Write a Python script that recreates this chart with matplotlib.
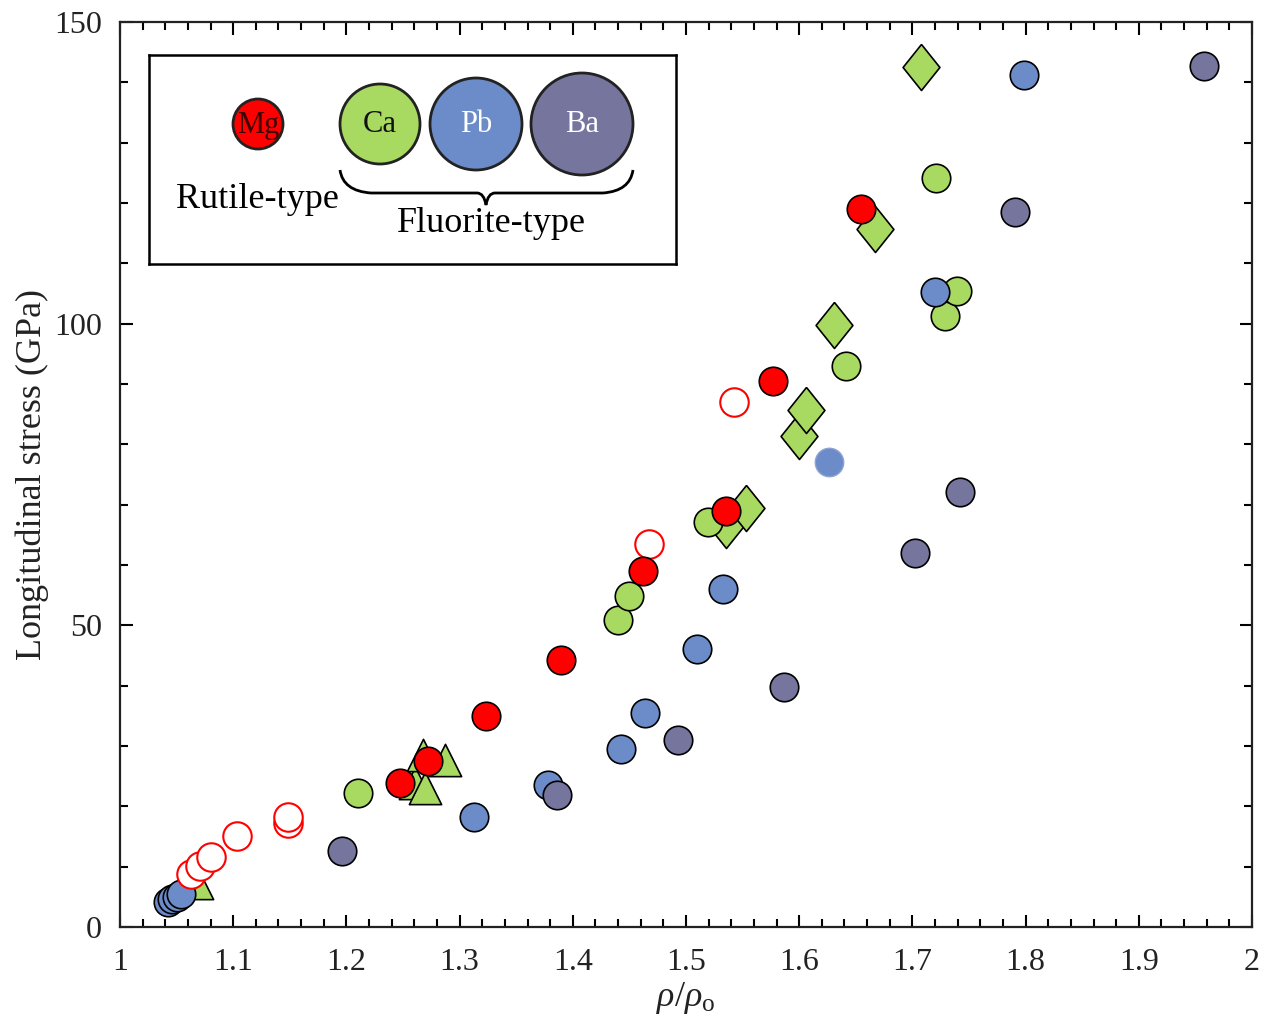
import numpy as np
import matplotlib
matplotlib.use('Agg')
import matplotlib.pyplot as plt
from matplotlib.patches import Circle, PathPatch
from matplotlib.path import Path
from matplotlib.ticker import MultipleLocator

plt.rcParams['font.family'] = ['Liberation Serif', 'DejaVu Serif']
plt.rcParams['mathtext.fontset'] = 'custom'
plt.rcParams['mathtext.rm'] = 'Liberation Serif'
plt.rcParams['mathtext.it'] = 'Liberation Serif:italic'

# Mg (rutile-type), filled and open red circles
mg_x = [1.247, 1.272, 1.323, 1.390, 1.462, 1.535, 1.577, 1.655]
mg_y = [23.9, 27.5, 35.0, 44.3, 59.0, 69.0, 90.5, 119.0]
mg_open_x = [1.063, 1.071, 1.080, 1.103, 1.148, 1.148, 1.467, 1.542]
mg_open_y = [8.8, 10.1, 11.6, 15.1, 17.2, 18.2, 63.5, 87.0]

# Ca (fluorite-type)
ca_x = [1.210, 1.440, 1.450, 1.519, 1.641, 1.721, 1.729, 1.739]
ca_y = [22.2, 50.9, 54.9, 67.1, 93.0, 124.1, 101.3, 105.4]
ca_tri_x = [1.068, 1.261, 1.269, 1.268, 1.287]
ca_tri_y = [7.3, 23.9, 23.0, 28.5, 27.7]
ca_dia_x = [1.535, 1.553, 1.600, 1.606, 1.631, 1.667, 1.708]
ca_dia_y = [66.6, 69.5, 81.4, 85.7, 99.8, 115.7, 142.5]

# Pb
pb_x = [1.042, 1.046, 1.050, 1.054, 1.313, 1.378, 1.443, 1.464, 1.510, 1.533, 1.720, 1.799]
pb_y = [4.2, 4.6, 5.0, 5.4, 18.2, 23.5, 29.5, 35.5, 46.1, 56.0, 105.3, 141.2]
pb_noedge_x = [1.626]
pb_noedge_y = [77.1]

# Ba
ba_x = [1.196, 1.386, 1.493, 1.587, 1.702, 1.742, 1.791, 1.958]
ba_y = [12.6, 21.9, 31.0, 39.8, 62.0, 72.1, 118.5, 142.7]

red = '#ff0000'
green = '#a8da62'
blue = '#6b8cc9'
purple = '#76759e'

# slightly tall diamond
diamond = [(0, 1), (0.8, 0), (0, -1), (-0.8, 0), (0, 1)]

fig = plt.figure(figsize=(12.62, 10.23), dpi=100)
ax = fig.add_axes([120/1262, 1 - 927/1023, 1132/1262, 905/1023])

s = 420
ax.scatter(ca_tri_x, ca_tri_y, s=540, marker='^', c=green, edgecolors='black', linewidths=1.2, zorder=2)
ax.scatter(ca_dia_x, ca_dia_y, s=1100, marker=diamond, c=green, edgecolors='black', linewidths=1.2, zorder=2)
ax.scatter(ca_x, ca_y, s=s, c=green, edgecolors='black', linewidths=1.2, zorder=3)
ax.scatter(pb_x, pb_y, s=s, c=blue, edgecolors='black', linewidths=1.2, zorder=3)
ax.scatter(pb_noedge_x, pb_noedge_y, s=s, c=blue, edgecolors='#8fa3d6', linewidths=1.0, zorder=3)
ax.scatter(ba_x, ba_y, s=s, c=purple, edgecolors='black', linewidths=1.2, zorder=3)
ax.scatter(mg_open_x, mg_open_y, s=s, facecolors='white', edgecolors=red, linewidths=1.5, zorder=4)
ax.scatter(mg_x, mg_y, s=s, c=red, edgecolors='black', linewidths=1.2, zorder=5)

ax.set_xlim(1, 2)
ax.set_ylim(0, 150)
ax.xaxis.set_minor_locator(MultipleLocator(0.02))
ax.yaxis.set_major_locator(MultipleLocator(50))
ax.yaxis.set_minor_locator(MultipleLocator(10))
ax.set_xticks(np.arange(1, 2.01, 0.1))
ax.set_xticklabels(['1', '1.1', '1.2', '1.3', '1.4', '1.5', '1.6', '1.7', '1.8', '1.9', '2'])
ax.tick_params(which='both', direction='in', top=True, right=True, labelsize=23,
               width=1.5, labelcolor='#222222')
ax.tick_params(axis='x', which='major', pad=15)
ax.tick_params(axis='y', which='major', pad=13)
ax.tick_params(which='major', length=9)
ax.tick_params(which='minor', length=6)
for sp in ax.spines.values():
    sp.set_linewidth(1.6)
    sp.set_color('#222222')
ax.set_xlabel(r'$\rho/\rho_{\rm o}$', fontsize=26, labelpad=2, color='#222222')
ax.set_ylabel('Longitudinal stress (GPa)', fontsize=26, labelpad=4, color='#222222')

# legend drawn in pixel units so circles stay round
lg = fig.add_axes([149/1262, 1 - 264/1023, 527/1262, 209/1023])
lg.set_xlim(0, 527)
lg.set_ylim(209, 0)
lg.set_xticks([])
lg.set_yticks([])
for sp in lg.spines.values():
    sp.set_linewidth(1.8)

circles = [('Mg', 109, 25, red, '#400000'),
           ('Ca', 231, 40, green, '#111111'),
           ('Pb', 327, 46, blue, 'white'),
           ('Ba', 433, 51, purple, 'white')]
for name, cx, r, fc, tc in circles:
    lg.add_patch(Circle((cx, 69), r, facecolor=fc, edgecolor='#222222', linewidth=2))
    lg.text(cx, 70, name, ha='center', va='center', fontsize=22, color=tc)

verts = [(191, 115), (194, 136), (222, 138),
         (328, 138), (335, 138), (337, 150),
         (339, 138), (346, 138),
         (454, 138), (481, 136), (484, 115)]
codes = [Path.MOVETO, Path.CURVE3, Path.CURVE3,
         Path.LINETO, Path.CURVE3, Path.CURVE3,
         Path.CURVE3, Path.CURVE3,
         Path.LINETO, Path.CURVE3, Path.CURVE3]
lg.add_patch(PathPatch(Path(verts, codes), facecolor='none', edgecolor='black', linewidth=2))
lg.text(108, 145, 'Rutile-type', ha='center', va='center', fontsize=26)
lg.text(342, 169, 'Fluorite-type', ha='center', va='center', fontsize=26)

fig.savefig('out.png', dpi=100)
